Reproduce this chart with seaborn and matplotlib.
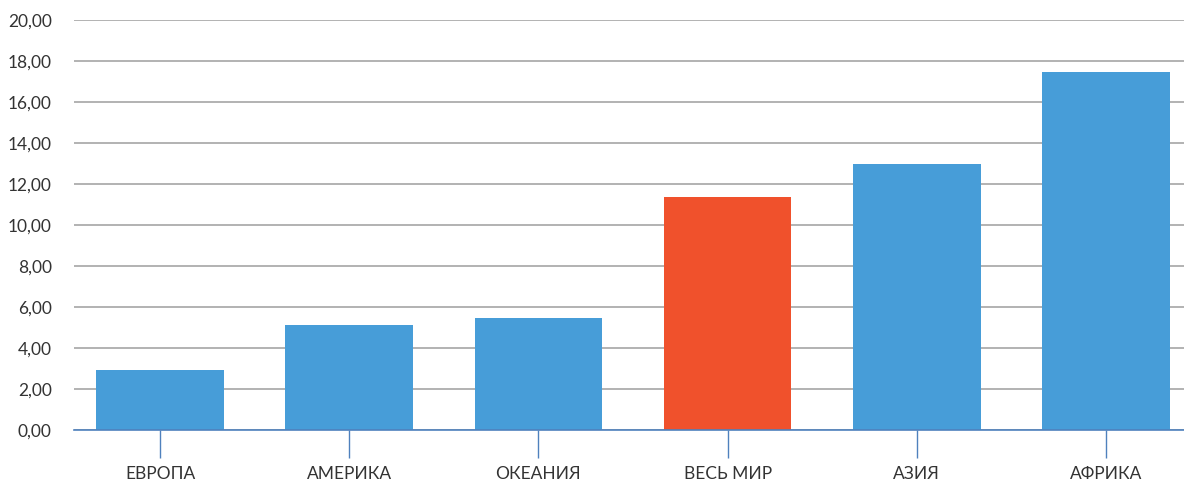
import numpy as np
import pandas as pd
import seaborn as sns
import matplotlib.pyplot as plt
from matplotlib.ticker import FuncFormatter

regions = ['ЕВРОПА', 'АМЕРИКА', 'ОКЕАНИЯ', 'ВЕСЬ МИР', 'АЗИЯ', 'АФРИКА']
values = [2.95, 5.1, 5.44, 11.35, 12.97, 17.45]
bar_colors = ['#479dd8', '#479dd8', '#479dd8', '#f0512c', '#479dd8', '#479dd8']

sns.set_theme(style="white")
plt.rcParams['font.family'] = ['Lato', 'DejaVu Sans']

df = pd.DataFrame({'region': regions, 'value': values})

fig = plt.figure(figsize=(11.84, 4.83), dpi=100)
ax = fig.add_axes([74 / 1184, 53 / 483, 1110 / 1184, 410 / 483])

sns.barplot(data=df, x='region', y='value', hue='region', palette=bar_colors,
            width=0.675, saturation=1, legend=False, linewidth=0, ax=ax, zorder=3)

ax.set_ylim(0, 20)
ax.set_xlim(-86 / 189, 5 + 78 / 189)
ax.set_yticks(np.arange(0, 21, 2))
ax.yaxis.set_major_formatter(FuncFormatter(lambda v, p: f"{v:.2f}".replace('.', ',')))
ax.grid(axis='y', color='#a6a6a6', linewidth=1.2, zorder=0)
ax.set_axisbelow(True)

for s in ['top', 'right', 'left']:
    ax.spines[s].set_visible(False)
ax.spines['bottom'].set_color('#4f81bd')
ax.spines['bottom'].set_linewidth(1.2)
ax.spines['bottom'].set_zorder(4)

ax.tick_params(axis='x', length=20, width=1, color='#4f81bd', direction='out',
               pad=6, labelsize=12.5, labelcolor='#333333', bottom=True)
ax.tick_params(axis='y', length=0, pad=16, labelsize=12.5, labelcolor='#333333')
ax.set_xlabel('')
ax.set_ylabel('')

plt.savefig('out.png', dpi=100)
